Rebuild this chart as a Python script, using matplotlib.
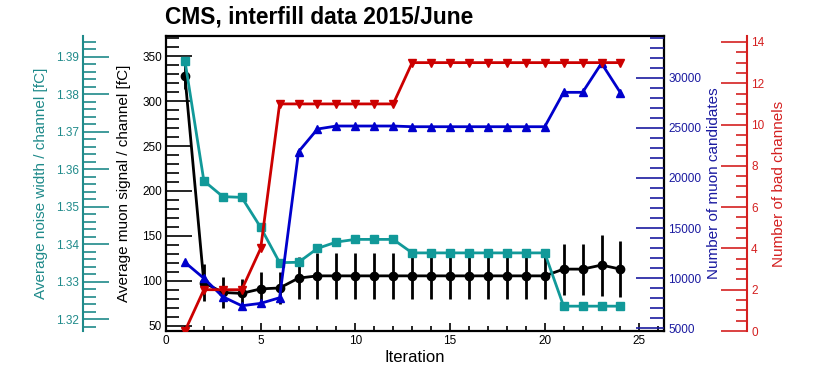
import matplotlib
matplotlib.use("Agg")
import matplotlib.pyplot as plt
from matplotlib.ticker import MultipleLocator

plt.rcParams['font.family'] = ['Liberation Sans', 'DejaVu Sans']

iteration = list(range(1, 25))
muon_signal = [328, 98, 87, 86, 91, 92, 103, 105.5, 105.5, 105.5, 105.5, 105.5,
               105.5, 105.5, 105.5, 105.5, 105.5, 105.5, 105.5, 105.5, 113, 113, 117.5, 113]
muon_err = [14, 21, 17, 16, 18.5, 18, 23, 25.5, 25.5, 25.5, 25.5, 25.5,
            26, 26, 26, 26, 26, 26, 26, 26, 28.5, 28.5, 34, 31]
noise_width = [1.3889, 1.3569, 1.3527, 1.3525, 1.3445, 1.3351, 1.3352, 1.3389,
               1.3406, 1.3413, 1.3413, 1.3413, 1.3377, 1.3377, 1.3377, 1.3377,
               1.3377, 1.3377, 1.3377, 1.3377, 1.3235, 1.3235, 1.3235, 1.3235]
muon_cands = [11580, 9990, 8150, 7250, 7490, 8050, 22620, 24880, 25180, 25180,
              25180, 25180, 25110, 25110, 25110, 25110, 25110, 25110, 25110, 25110,
              28540, 28540, 31440, 28500]
bad_channels = [0, 2, 2, 2, 4, 11, 11, 11, 11, 11, 11, 11,
                13, 13, 13, 13, 13, 13, 13, 13, 13, 13, 13, 13]

TEAL = '#119999'
TEAL_AX = '#1f8a8a'
BLUE = '#0000cc'
BLUE_AX = '#1a1aa0'
RED = '#cc0000'
RED_AX = '#d42020'

W, H = 830, 368
fig = plt.figure(figsize=(W / 100, H / 100), dpi=100)
L, R, T, B = 166, 664, 36, 331
ax = fig.add_axes([L / W, 1 - B / H, (R - L) / W, (B - T) / H])

# main: muon signal
ax.errorbar(iteration, muon_signal, yerr=muon_err, color='black', lw=2,
            marker='o', ms=6, elinewidth=2, capsize=0, zorder=3)
ax.set_xlim(0, 26.3)
ax.set_ylim(44.1, 372.6)
ax.xaxis.set_major_locator(MultipleLocator(5))
ax.xaxis.set_minor_locator(MultipleLocator(1))
ax.yaxis.set_major_locator(MultipleLocator(50))
ax.yaxis.set_minor_locator(MultipleLocator(10))
ax.tick_params(axis='both', which='both', direction='in', labelsize=8.5)
ax.tick_params(axis='x', which='major', length=6, width=1.2, top=False, pad=3)
ax.tick_params(axis='x', which='minor', length=3.5, width=1.2, top=False)
ax.tick_params(axis='y', which='major', length=19, width=1.2, right=False, pad=3)
ax.tick_params(axis='y', which='minor', length=9.5, width=1.2, right=False)
for s in ax.spines.values():
    s.set_linewidth(1.6)
ax.set_xlabel('Iteration', fontsize=12, labelpad=2)
ax.set_ylabel('Average muon signal / channel [fC]', fontsize=11)
ax.yaxis.set_label_coords((131 - L) / (R - L), 0.5)

# teal: noise width
axt = ax.twinx()
axt.plot(iteration, noise_width, color=TEAL, lw=2, marker='s', ms=6, zorder=3)
axt.set_ylim(1.31688, 1.39552)
axt.spines['left'].set_visible(True)
axt.spines['left'].set_position(('axes', (83 - L) / (R - L)))
axt.spines['left'].set_color(TEAL_AX)
axt.spines['left'].set_linewidth(1.5)
for k in ('right', 'top', 'bottom'):
    axt.spines[k].set_visible(False)
axt.yaxis.set_ticks_position('left')
axt.yaxis.set_label_position('left')
axt.yaxis.set_major_locator(MultipleLocator(0.01))
axt.yaxis.set_minor_locator(MultipleLocator(0.002))
axt.tick_params(axis='y', which='both', direction='in', colors=TEAL_AX, labelsize=8.5)
axt.tick_params(axis='y', which='major', length=19, width=1.2, pad=3)
axt.tick_params(axis='y', which='minor', length=9.5, width=1.2)
axt.set_ylabel('Average noise width / channel [fC]', fontsize=11, color=TEAL_AX)
axt.yaxis.set_label_coords((48 - L) / (R - L), 0.5)

# blue: muon candidates
axb = ax.twinx()
axb.plot(iteration, muon_cands, color=BLUE, lw=2, marker='^', ms=6, zorder=3)
axb.set_ylim(4731, 34160)
for k in ('left', 'right', 'top', 'bottom'):
    axb.spines[k].set_visible(False)
axb.yaxis.set_major_locator(MultipleLocator(5000))
axb.yaxis.set_minor_locator(MultipleLocator(1000))
axb.tick_params(axis='y', which='both', direction='in', colors=BLUE_AX, labelsize=8.5)
axb.tick_params(axis='y', which='major', length=20, width=1.2, pad=3)
axb.tick_params(axis='y', which='minor', length=10, width=1.2)
axb.set_ylabel('Number of muon candidates', fontsize=11, color=BLUE_AX)
axb.yaxis.set_label_coords((707 - L) / (R - L), 0.5)

# red: bad channels
axr = ax.twinx()
axr.plot(iteration, bad_channels, color=RED, lw=2, marker='v', ms=6, zorder=3)
axr.set_ylim(0, 14.29)
axr.spines['right'].set_position(('axes', (747 - L) / (R - L)))
axr.spines['right'].set_color(RED_AX)
axr.spines['right'].set_linewidth(1.5)
for k in ('left', 'top', 'bottom'):
    axr.spines[k].set_visible(False)
axr.yaxis.set_major_locator(MultipleLocator(2))
axr.yaxis.set_minor_locator(MultipleLocator(0.5))
axr.tick_params(axis='y', which='both', direction='in', colors=RED_AX, labelsize=8.5)
axr.tick_params(axis='y', which='major', length=19, width=1.2, pad=3)
axr.tick_params(axis='y', which='minor', length=8, width=1.2)
axr.set_ylabel('Number of bad channels', fontsize=11, color=RED_AX)
axr.yaxis.set_label_coords((772 - L) / (R - L), 0.5)

for a in (axt, axb, axr):
    a.set_xlim(0, 26.3)

fig.text(165 / W, 1 - 17 / H, 'CMS, interfill data 2015/June', fontsize=16.4,
         fontweight='bold', va='center', ha='left')

fig.savefig('out.png', dpi=100)
